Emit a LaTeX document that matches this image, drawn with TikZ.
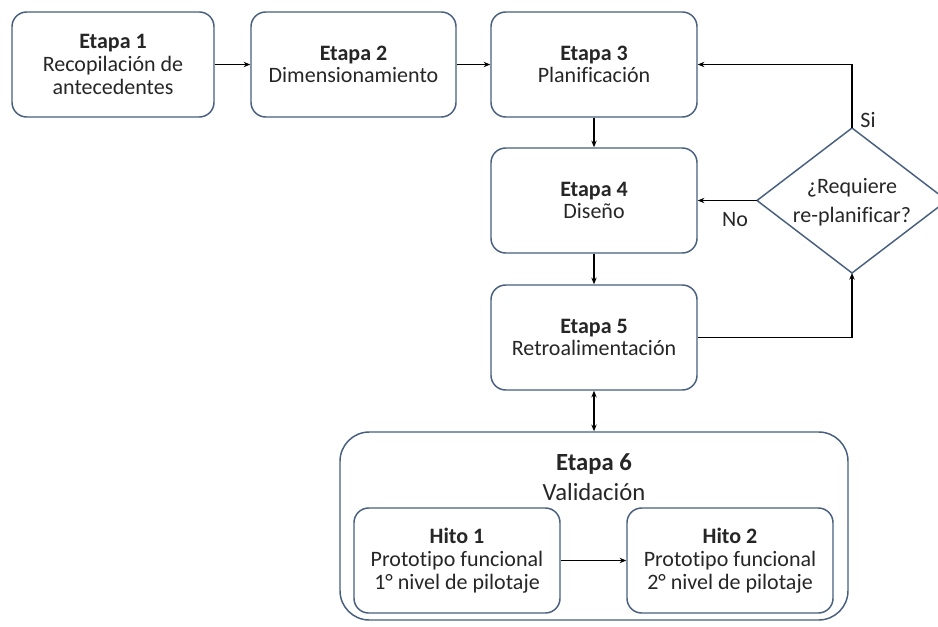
\documentclass[tikz,border=0pt]{standalone}
\usepackage{fontspec}
\setmainfont{Carlito}[Ligatures={NoCommon}]
\usetikzlibrary{arrows.meta}
\definecolor{bordc}{RGB}{72,96,126}
\definecolor{txtc}{RGB}{38,38,38}
\tikzset{
  box/.style={draw=bordc, line width=1.1pt, rounded corners=11pt, fill=white,
    align=center, text=txtc, font=\fontsize{16.5}{17}\selectfont, inner sep=0pt},
  conn/.style={draw=black, line width=0.9pt, -{Stealth[length=5pt,width=4pt]}},
  dconn/.style={draw=black, line width=0.9pt, {Stealth[length=5pt,width=4pt]}-{Stealth[length=5pt,width=4pt]}},
  lbl/.style={text=txtc, font=\fontsize{16.5}{17}\selectfont, inner sep=0pt}
}
\begin{document}
\begin{tikzpicture}[x=0.75pt,y=-0.75pt]
\clip (0,0) rectangle (938,627);
\useasboundingbox (0,0) rectangle (938,627);
\fill[white] (0,0) rectangle (938,627);

\node[box, minimum width=202*0.75pt, minimum height=105*0.75pt] (b1) at (113,64.5)
  {\textbf{Etapa 1}\\Recopilación de\\antecedentes};
\node[box, minimum width=205*0.75pt, minimum height=105*0.75pt] (b2) at (353.5,64.5)
  {\textbf{Etapa 2}\\Dimensionamiento};
\node[box, minimum width=206*0.75pt, minimum height=105*0.75pt] (b3) at (594,64.5)
  {\textbf{Etapa 3}\\Planificación};
\node[box, minimum width=206*0.75pt, minimum height=105*0.75pt] (b4) at (594,200.5)
  {\textbf{Etapa 4}\\Diseño};
\node[box, minimum width=206*0.75pt, minimum height=105*0.75pt] (b5) at (594,337.5)
  {\textbf{Etapa 5}\\Retroalimentación};

\node[box, rounded corners=22pt, minimum width=508*0.75pt, minimum height=188*0.75pt] (e6) at (594,526) {};
\node[lbl, align=center, font=\fontsize{18.5}{22.5}\selectfont] (e6t) at (594,477) {\textbf{Etapa 6}\\Validación};

\node[box, minimum width=206*0.75pt, minimum height=105*0.75pt] (h1) at (457,560.5)
  {\textbf{Hito 1}\\Prototipo funcional\\1° nivel de pilotaje};
\node[box, minimum width=206*0.75pt, minimum height=105*0.75pt] (h2) at (730,560.5)
  {\textbf{Hito 2}\\Prototipo funcional\\2° nivel de pilotaje};

% decision diamond
\coordinate (dT) at (852,128);
\coordinate (dB) at (852,273);
\coordinate (dW) at (757,200.5);
\coordinate (dE) at (947,200.5);
\draw[draw=bordc, line width=1.1pt, fill=white] (dT) -- (dE) -- (dB) -- (dW) -- cycle;
\node[lbl, align=center, font=\fontsize{16.5}{22}\selectfont] (dia) at (852,202) {¿Requiere\\re-planificar?};

\draw[conn] (b1.east) -- (b2.west);
\draw[conn] (b2.east) -- (b3.west);
\draw[conn] (b3.south) -- (b4.north);
\draw[conn] (b4.south) -- (b5.north);
\draw[dconn] (b5.south) -- (e6.north);
\draw[conn] (b5.east) -| (dB);
\draw[conn] (dT) |- (b3.east);
\draw[conn] (dW) -- (b4.east);
\draw[conn] (h1.east) -- (h2.west);

\node[lbl] (si) at (868,120) {Si};
\node[lbl] (no) at (735,220) {No};
\end{tikzpicture}
\end{document}
